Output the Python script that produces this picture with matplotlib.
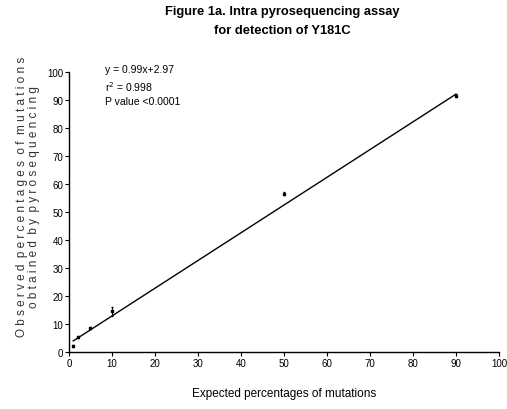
import matplotlib
matplotlib.use("Agg")
import matplotlib.pyplot as plt
import numpy as np

expected = [1, 2, 5, 10, 50, 90]
observed = [2.2, 5.3, 8.6, 14.5, 56.5, 91.5]
err = [0.3, 0.4, 0.4, 1.5, 0.6, 0.6]
slope, intercept = 0.99, 2.97
line_x = [1, 90]
xticks = list(range(0, 101, 10))
yticks = list(range(0, 101, 10))

plt.rcParams['font.family'] = ['Liberation Sans Narrow', 'Liberation Sans', 'DejaVu Sans']

fig = plt.figure(figsize=(5.07, 4.10), dpi=100)
ax = fig.add_axes([0.136, 0.139, 0.848, 0.683])
ax.errorbar(expected, observed, yerr=err, fmt='s', ms=1.6, color='black',
            ecolor='black', elinewidth=0.8, capsize=1.0)
lx = np.array(line_x)
ax.plot(lx, slope * lx + intercept, color='black', lw=1.0)
ax.set_xlim(0, 100)
ax.set_ylim(0, 100)
ax.set_xticks(xticks)
ax.set_yticks(yticks)
ax.tick_params(labelsize=7, length=3, width=0.8, pad=1)
for s in ['top', 'right']:
    ax.spines[s].set_visible(False)
for s in ['left', 'bottom']:
    ax.spines[s].set_linewidth(1.0)
ax.text(8.5, 103, "y = 0.99x+2.97\nr$^2$ = 0.998\nP value <0.0001", fontsize=7.5,
        va='top', ha='left', linespacing=1.45)
ax.set_xlabel("Expected percentages of mutations", fontsize=8.5, labelpad=14)
ax.set_ylabel("O b s e r v e d  p e r c e n t a g e s  o f  m u t a t i o n s\no b t a i n e d  b y  p y r o s e q u e n c i n g",
              fontsize=8.5, linespacing=1.0, color='#333333')
ax.yaxis.set_label_coords(-0.068, 0.557)
fig.text(0.556, 0.985, "Figure 1a. Intra pyrosequencing assay\nfor detection of Y181C",
         ha='center', va='top', fontsize=9.3, fontweight='bold', linespacing=1.75)
fig.savefig("out.png", dpi=100)
